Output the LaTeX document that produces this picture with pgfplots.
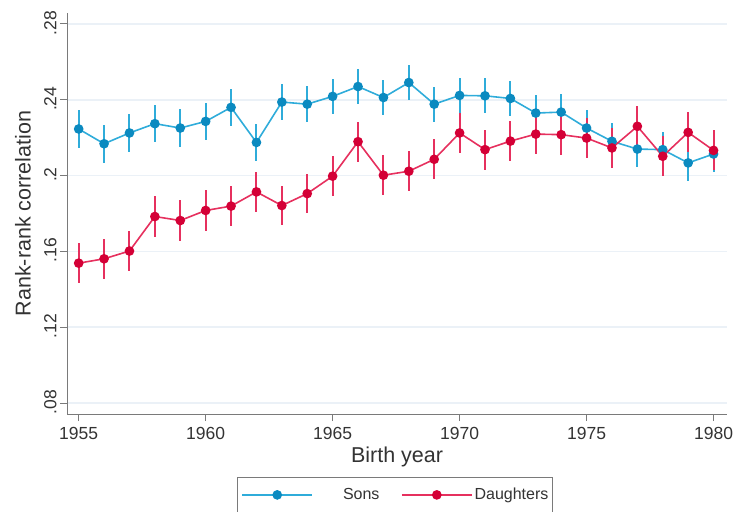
\documentclass[border=0pt]{standalone}
\usepackage{fontspec}
\setmainfont{Liberation Sans}
\usepackage{pgfplots}
\pgfplotsset{compat=1.18}
\usepackage{pgfplotstable}
\definecolor{sonline}{HTML}{2FACDA}
\definecolor{sonmark}{HTML}{0B8AC0}
\definecolor{dauline}{HTML}{E6305E}
\definecolor{daumark}{HTML}{D40036}
\definecolor{gridc}{HTML}{EBF1F7}
\definecolor{axc}{HTML}{7A7A7A}
\definecolor{txt}{HTML}{333333}

\pgfplotstableread{
year r e
1955 0.2246 0.0100
1956 0.2168 0.0100
1957 0.2225 0.0100
1958 0.2274 0.0098
1959 0.2251 0.0098
1960 0.2286 0.0098
1961 0.2360 0.0099
1962 0.2175 0.0099
1963 0.2388 0.0095
1964 0.2377 0.0095
1965 0.2418 0.0092
1966 0.2470 0.0090
1967 0.2412 0.0090
1968 0.2491 0.0092
1969 0.2377 0.0092
1970 0.2423 0.0092
1971 0.2421 0.0092
1972 0.2407 0.0093
1973 0.2330 0.0093
1974 0.2335 0.0094
1975 0.2251 0.0095
1976 0.2181 0.0095
1977 0.2140 0.0095
1978 0.2137 0.0095
1979 0.2067 0.0095
1980 0.2114 0.0095
}\sons

\pgfplotstableread{
year r e
1955 0.1538 0.0107
1956 0.1561 0.0107
1957 0.1602 0.0106
1958 0.1784 0.0106
1959 0.1763 0.0106
1960 0.1816 0.0106
1961 0.1839 0.0105
1962 0.1914 0.0105
1963 0.1842 0.0105
1964 0.1905 0.0105
1965 0.1997 0.0105
1966 0.2179 0.0105
1967 0.2002 0.0105
1968 0.2023 0.0105
1969 0.2086 0.0105
1970 0.2225 0.0105
1971 0.2137 0.0105
1972 0.2182 0.0105
1973 0.2219 0.0105
1974 0.2216 0.0105
1975 0.2198 0.0105
1976 0.2146 0.0105
1977 0.2260 0.0105
1978 0.2102 0.0105
1979 0.2228 0.0105
1980 0.2133 0.0105
}\daughters

\begin{document}
\begin{tikzpicture}
\useasboundingbox (-67bp,-98bp) rectangle (669bp,414bp);
\begin{axis}[
  scale only axis,
  width=660bp, height=401bp,
  xmin=1954.54, xmax=1980.53,
  ymin=0.0742, ymax=0.2858,
  axis x line*=bottom, axis y line*=left,
  axis line style={axc, line width=1bp, -},
  tick style={axc, line width=1bp},
  tick align=outside,
  major tick length=7bp,
  xtick={1955,1960,1965,1970,1975,1980},
  xticklabels={1955,1960,1965,1970,1975,1980},
  ytick={0.08,0.12,0.16,0.2,0.24,0.28},
  yticklabels={.08,.12,.16,.2,.24,.28},
  ymajorgrids,
  grid style={gridc, line width=1.5bp},
  ticklabel style={font=\fontsize{17.5bp}{20bp}\selectfont, text=txt},
  xticklabel style={yshift=-3bp},
  yticklabel style={rotate=90, anchor=south, xshift=1bp},
  xlabel={Birth year},
  ylabel={Rank-rank correlation},
  xlabel style={at={(axis description cs:0.5,-0.107)}, anchor=center,
    font=\fontsize{21.5bp}{25bp}\selectfont, text=txt},
  ylabel style={at={(axis description cs:-0.0667,0.5)}, anchor=center, rotate=0,
    font=\fontsize{21.5bp}{25bp}\selectfont, text=txt},
  legend style={at={(axis description cs:0.497,-0.157)}, anchor=north,
    draw=axc, line width=0.8bp, font=\fontsize{16bp}{19bp}\selectfont, text=txt,
    inner xsep=4bp, inner ysep=9bp},
  legend columns=2,
  legend cell align=center,
  legend image code/.code={
    \draw[#1, mark repeat=2, mark phase=2] plot coordinates {(0bp,0bp) (35bp,0bp) (70bp,0bp)};
  },
  /tikz/every even column/.append style={column sep=6bp},
  clip=false,
]
\addplot[sonline, line width=1.6bp, mark=*, mark size=4bp,
  mark options={draw=sonmark, fill=sonmark},
  error bars/.cd, y dir=both, y explicit, error mark=none,
  error bar style={sonline, line width=2bp}]
  table[x=year, y=r, y error=e] {\sons};
\addlegendentry{\hspace*{28bp}\makebox[50bp][l]{Sons}}
\addplot[dauline, line width=1.6bp, mark=*, mark size=4bp,
  mark options={draw=daumark, fill=daumark},
  error bars/.cd, y dir=both, y explicit, error mark=none,
  error bar style={dauline, line width=2bp}]
  table[x=year, y=r, y error=e] {\daughters};
\addlegendentry{\makebox[72bp][l]{Daughters}}
\end{axis}
\end{tikzpicture}
\end{document}
